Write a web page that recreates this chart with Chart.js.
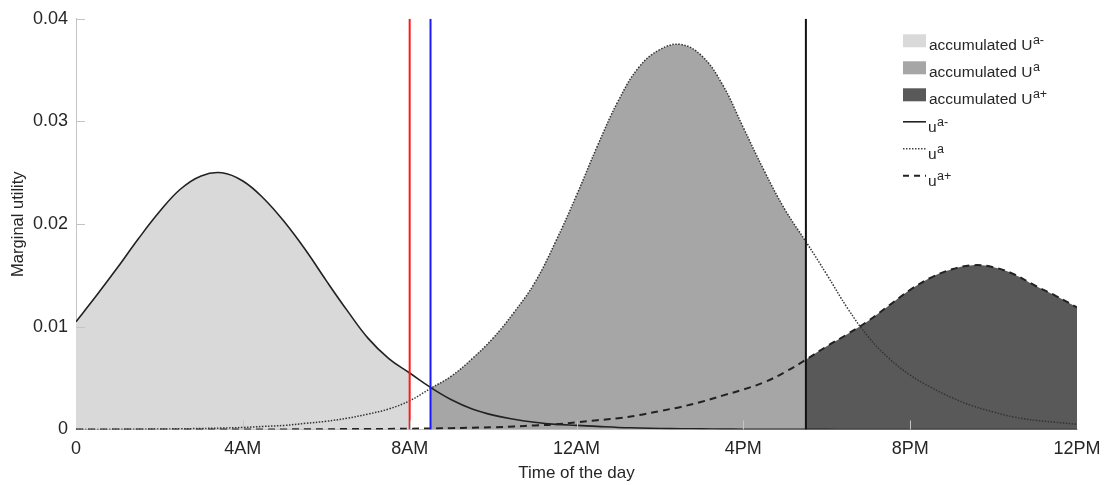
<!DOCTYPE html>
<html>
<head>
<meta charset="utf-8">
<title>Marginal utility over the day</title>
<script src="https://cdn.jsdelivr.net/npm/chart.js@4.4.0/dist/chart.umd.min.js"></script>
<style>
  html, body { margin: 0; padding: 0; background: #fff; }
  #wrap { width: 1111px; height: 485px; }
</style>
</head>
<body>
<div id="wrap"><canvas id="utilityChart" width="1111" height="485"></canvas></div>
<script>
// hour of the day, every half hour
const hours = [0, 0.5, 1, 1.5, 2, 2.5, 3, 3.5, 4, 4.5, 5, 5.5, 6, 6.5, 7, 7.5, 8, 8.5, 9, 9.5,
  10, 10.5, 11, 11.5, 12, 12.5, 13, 13.5, 14, 14.5, 15, 15.5, 16, 16.5, 17, 17.5, 18, 18.5, 19, 19.5,
  20, 20.5, 21, 21.5, 22, 22.5, 23, 23.5, 24];

// u^a- (solid)
const uMinus = [0.0105, 0.0131, 0.0158, 0.0186, 0.0212, 0.0234, 0.0247, 0.0250, 0.0242, 0.0225,
  0.0202, 0.0175, 0.0145, 0.0116, 0.0089, 0.0069, 0.0055, 0.0041, 0.0029, 0.0020,
  0.0014, 0.0010, 0.0007, 0.0005, 0.0004, 0.0003, 0.0002, 0.00015, 0.0001, 0.00008,
  0.00006, 0.00004, 0.00003, 0.00002, 0.00002, 0.00001, 0.00001, 0, 0, 0,
  0, 0, 0, 0, 0, 0, 0, 0, 0];

// u^a (dotted)
const uA = [0, 0, 0.00002, 0.00003, 0.00005, 0.00007, 0.0001, 0.00014, 0.0002, 0.0003,
  0.0004, 0.0006, 0.0008, 0.0011, 0.0015, 0.0020, 0.0028, 0.0040, 0.0052, 0.0069,
  0.0089, 0.0114, 0.0143, 0.0183, 0.0228, 0.0276, 0.0320, 0.0353, 0.0370, 0.0375,
  0.0364, 0.0336, 0.0294, 0.0252, 0.0214, 0.0183, 0.0151, 0.0118, 0.0090, 0.0069,
  0.0053, 0.0041, 0.0031, 0.0023, 0.0017, 0.0012, 0.0009, 0.0007, 0.0005];

// u^a+ (dashed)
const uPlus = [0, 0, 0, 0, 0, 0, 0, 0, 0, 0,
  0.00001, 0.00002, 0.00003, 0.00004, 0.00005, 0.00006, 0.00008, 0.0001, 0.00013, 0.00017,
  0.00022, 0.0003, 0.0004, 0.0005, 0.0007, 0.0009, 0.0011, 0.0014, 0.0018, 0.0022,
  0.0027, 0.0033, 0.0039, 0.0046, 0.0056, 0.0068, 0.0081, 0.0093, 0.0106, 0.0121,
  0.0136, 0.0148, 0.0156, 0.0160, 0.0158, 0.0151, 0.0140, 0.0130, 0.0119];

const xTickLabels = ['0', '4AM', '8AM', '12AM', '4PM', '8PM', '12PM'];
const yTickLabels = ['0', '0.01', '0.02', '0.03', '0.04'];

// hours where the vertical red, blue and black lines sit
const markerHours = [8, 8.5, 17.5];
// shaded stretches: [from, to] for U^a-, U^a, U^a+
const fillRanges = [[0, 8], [8.5, 17.5], [17.5, 24]];

const FONT = '"Liberation Sans", Arial, sans-serif';
const TEXT = '#262626';
const AXIS = '#c4c4c4';
const fillColors = ['#d9d9d9', '#a6a6a6', '#595959'];
const markerColors = ['#ff1a1a', '#1a1aff', '#111111'];

function toPoints(values, from, to) {
    return hours
        .map((h, i) => ({ x: h, y: values[i] }))
        .filter(p => p.x >= from && p.x <= to);
}

const curves = [uMinus, uA, uPlus];

const lineSets = [
    { label: 'u^a-', data: toPoints(uMinus, 0, 24), borderColor: '#222', borderWidth: 1.6, borderDash: [] },
    { label: 'u^a', data: toPoints(uA, 0, 24), borderColor: '#333', borderWidth: 1.5, borderDash: [1.5, 1.5] },
    { label: 'u^a+', data: toPoints(uPlus, 0, 24), borderColor: '#222', borderWidth: 2, borderDash: [7, 5] }
];

const markerSets = markerHours.map((h, i) => ({
    label: 'marker ' + h,
    data: [{ x: h, y: 0 }, { x: h, y: 0.04 }],
    borderColor: markerColors[i],
    borderWidth: 2,
    tension: 0,
    fill: false,
    order: 0
}));

const fillSets = fillRanges.map((r, i) => ({
    label: 'accumulated ' + i,
    data: toPoints(curves[i], r[0], r[1]),
    borderWidth: 0,
    borderColor: 'rgba(0,0,0,0)',
    backgroundColor: fillColors[i],
    fill: 'origin',
    order: 3
}));

lineSets.forEach(s => { s.fill = false; s.order = 1; });

// inward tick marks, drawn over the shading
const innerTicks = {
    id: 'innerTicks',
    afterDatasetsDraw(chart) {
        const { ctx, chartArea, scales } = chart;
        ctx.save();
        ctx.strokeStyle = AXIS;
        ctx.lineWidth = 1;
        ctx.beginPath();
        for (let h = 4; h < 24; h += 4) {
            const x = Math.round(scales.x.getPixelForValue(h)) + 0.5;
            ctx.moveTo(x, chartArea.bottom);
            ctx.lineTo(x, chartArea.bottom - 9);
        }
        for (let v = 1; v <= 4; v++) {
            const y = Math.round(scales.y.getPixelForValue(v / 100)) + 0.5;
            ctx.moveTo(chartArea.left, y);
            ctx.lineTo(chartArea.left + 9, y);
        }
        ctx.stroke();
        ctx.restore();
    }
};

const legendRows = [
    { type: 'box', color: fillColors[0], text: 'accumulated U', sup: 'a-' },
    { type: 'box', color: fillColors[1], text: 'accumulated U', sup: 'a' },
    { type: 'box', color: fillColors[2], text: 'accumulated U', sup: 'a+' },
    { type: 'line', dash: [], width: 1.6, color: '#222', text: 'u', sup: 'a-' },
    { type: 'line', dash: [1.5, 1.5], width: 1.4, color: '#444', text: 'u', sup: 'a' },
    { type: 'line', dash: [6, 5], width: 2, color: '#222', text: 'u', sup: 'a+' }
];

const supLegend = {
    id: 'supLegend',
    afterDraw(chart) {
        const { ctx, chartArea } = chart;
        const x0 = chartArea.right - 174;
        ctx.save();
        legendRows.forEach((row, i) => {
            const cy = chartArea.top + 22 + i * 27;
            if (row.type === 'box') {
                ctx.fillStyle = row.color;
                ctx.fillRect(x0, cy - 6.5, 23, 13);
            } else {
                ctx.strokeStyle = row.color;
                ctx.lineWidth = row.width;
                ctx.setLineDash(row.dash);
                ctx.beginPath();
                ctx.moveTo(x0, cy);
                ctx.lineTo(x0 + 23, cy);
                ctx.stroke();
                ctx.setLineDash([]);
            }
            const base = cy + (row.type === 'box' ? 9.5 : 10.5);
            ctx.fillStyle = TEXT;
            ctx.textBaseline = 'alphabetic';
            ctx.textAlign = 'left';
            ctx.font = '15.5px ' + FONT;
            const tx = x0 + (row.type === 'box' ? 26 : 25);
            ctx.fillText(row.text, tx, base);
            const w = ctx.measureText(row.text).width;
            ctx.font = '12.5px ' + FONT;
            ctx.fillText(row.sup, tx + w + 0.5, base - 6);
        });
        ctx.restore();
    }
};

const ctx = document.getElementById('utilityChart').getContext('2d');
const chart = new Chart(ctx, {
    type: 'line',
    data: {
        datasets: [...markerSets, ...lineSets, ...fillSets]
    },
    options: {
        responsive: false,
        animation: false,
        layout: { padding: { top: 15, right: 34, left: 0, bottom: 0 } },
        plugins: {
            legend: { display: false },
            tooltip: { enabled: false }
        },
        elements: {
            point: { radius: 0, hoverRadius: 0 },
            line: { tension: 0.4 }
        },
        scales: {
            x: {
                type: 'linear',
                min: 0,
                max: 24,
                afterFit: s => { s.height = 55.5; },
                grid: { display: false, drawTicks: false },
                border: { display: true, color: AXIS, width: 1 },
                ticks: {
                    stepSize: 4,
                    padding: 9,
                    maxRotation: 0,
                    autoSkip: false,
                    color: TEXT,
                    font: { family: FONT, size: 18 },
                    callback: v => xTickLabels[v / 4]
                },
                title: {
                    display: true,
                    text: 'Time of the day',
                    color: TEXT,
                    font: { family: FONT, size: 17 },
                    padding: { top: 0, bottom: 1 }
                }
            },
            y: {
                min: 0,
                max: 0.04,
                afterFit: s => { s.width = 76; },
                grid: { display: false, drawTicks: false },
                border: { display: true, color: AXIS, width: 1 },
                ticks: {
                    stepSize: 0.01,
                    padding: 8,
                    color: TEXT,
                    font: { family: FONT, size: 18 },
                    callback: v => yTickLabels[Math.round(v * 100)]
                },
                title: {
                    display: true,
                    text: 'Marginal utility',
                    color: TEXT,
                    font: { family: FONT, size: 16.5 },
                    padding: { top: 9, bottom: 0 }
                }
            }
        }
    },
    plugins: [innerTicks, supLegend]
});
</script>
</body>
</html>
